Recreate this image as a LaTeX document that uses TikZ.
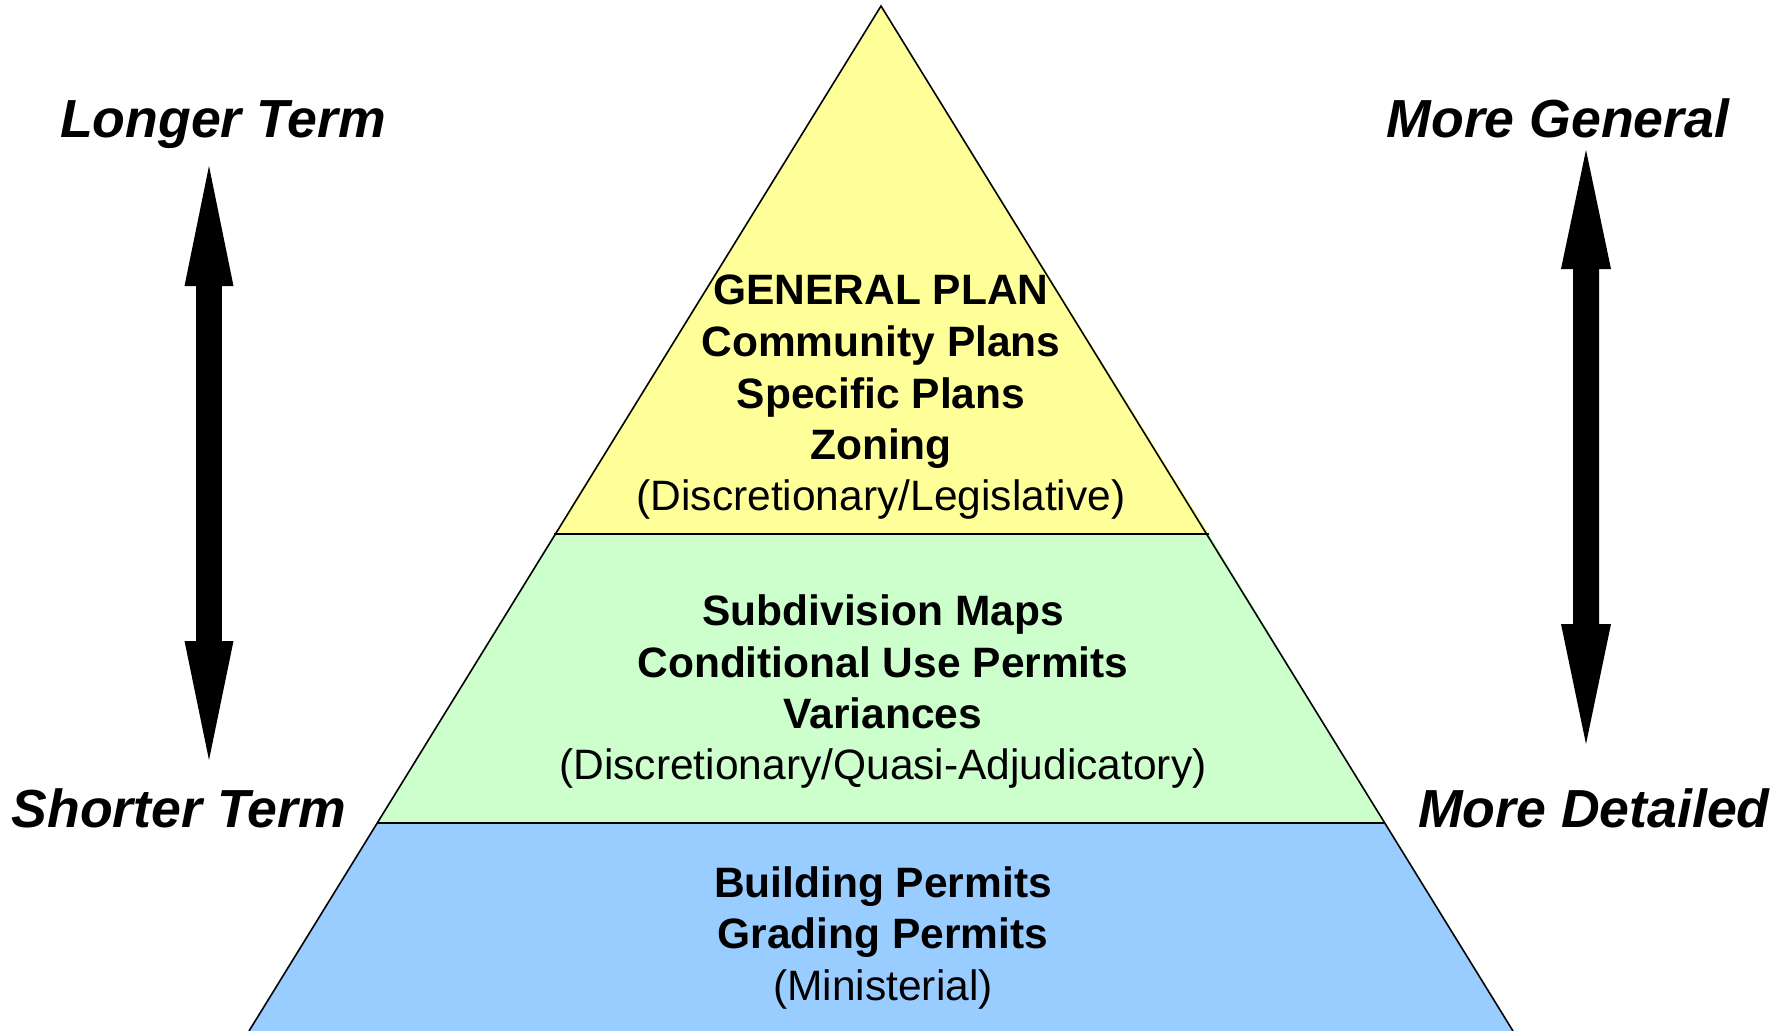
\documentclass[tikz,border=0pt]{standalone}
\usepackage{fontspec}
\setmainfont{Liberation Sans}
\definecolor{bandyellow}{HTML}{FFFF99}
\definecolor{bandgreen}{HTML}{CCFFCC}
\definecolor{bandblue}{HTML}{99CCFF}
\tikzset{
  band/.style={draw=black, line width=1.6pt, line join=miter},
  boldline/.style={anchor=base, inner sep=0pt, font=\fontsize{42.5}{50}\selectfont\bfseries},
  normline/.style={anchor=base, inner sep=0pt, font=\fontsize{42.5}{50}\selectfont},
  sidelabel/.style={anchor=base, inner sep=0pt, font=\fontsize{53.6}{60}\selectfont\bfseries\itshape},
  bigarrow/.style={fill=black, draw=none}
}
\begin{document}
\begin{tikzpicture}[x=1pt, y=-1pt]
\useasboundingbox (0,0) rectangle (1789,1031);
% bands
\coordinate (apex) at (881,6);
\coordinate (yl) at (554,534);
\coordinate (yr) at (1209,534);
\coordinate (gl) at (378,823);
\coordinate (gr) at (1384,823);
\coordinate (bl) at (249,1031);
\coordinate (br) at (1513,1031);
\fill[bandblue] (gl) -- (gr) -- (br) -- (bl) -- cycle;
\fill[bandgreen] (yl) -- (yr) -- (gr) -- (gl) -- cycle;
\fill[bandyellow] (apex) -- (yr) -- (yl) -- cycle;
\draw[band] (bl) -- (apex) -- (br);
\draw[band] (yl) -- (yr);
\draw[band] (gl) -- (gr);
% top band text
\node[boldline] (t1) at (881,304) {GENERAL PLAN};
\node[boldline] (t2) at (881,356) {Community Plans};
\node[boldline] (t3) at (881,408) {Specific Plans};
\node[boldline] (t4) at (881,459) {Zoning};
\node[normline] (t5) at (881,510) {(Discretionary/Legislative)};
% middle band text
\node[boldline] (m1) at (883,625) {Subdivision Maps};
\node[boldline] (m2) at (883,677) {Conditional Use Permits};
\node[boldline] (m3) at (883,728) {Variances};
\node[normline] (m4) at (883,779) {(Discretionary/Quasi-Adjudicatory)};
% bottom band text
\node[boldline] (b1) at (883,897) {Building Permits};
\node[boldline] (b2) at (883,948) {Grading Permits};
\node[normline] (b3) at (883,1000) {(Ministerial)};
% side labels
\node[sidelabel] (lt) at (223,137.5) {Longer Term};
\node[sidelabel] (st) at (179,827) {Shorter Term};
\node[sidelabel] (mg) at (1558,137.5) {More General};
\node[sidelabel] (md) at (1594,827) {More Detailed};
% arrows
\fill[bigarrow] (209,166) -- (233.5,286) -- (221.8,286) -- (221.8,641) -- (233.5,641)
  -- (209,760) -- (184.5,641) -- (196.2,641) -- (196.2,286) -- (184.5,286) -- cycle;
\fill[bigarrow] (1586,150) -- (1611,269) -- (1599,269) -- (1599,624) -- (1611,624)
  -- (1586,744) -- (1561,624) -- (1573,624) -- (1573,269) -- (1561,269) -- cycle;
\end{tikzpicture}
\end{document}
